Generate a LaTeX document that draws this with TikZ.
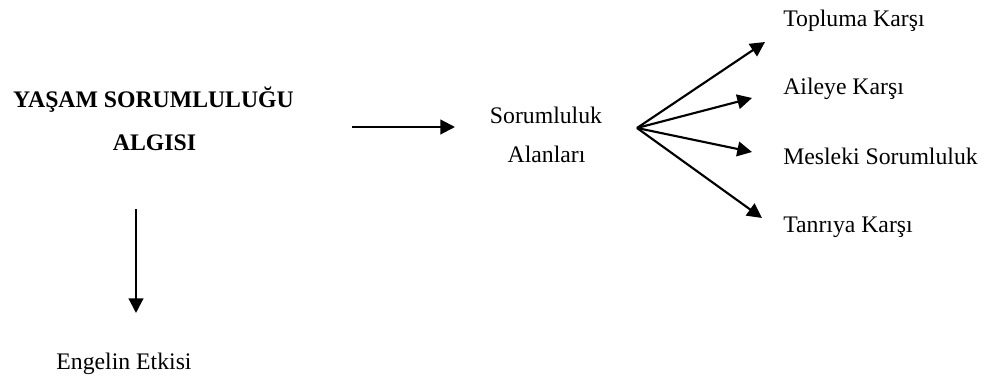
\documentclass[tikz,border=0pt]{standalone}
\usepackage{fontspec}
\setmainfont{Liberation Serif}
\usetikzlibrary{arrows.meta}
\begin{document}
\begin{tikzpicture}[x=0.75pt,y=-0.75pt,
  lbl/.style={inner sep=0pt,anchor=base,font=\fontsize{17.8}{20}\selectfont},
  blbl/.style={lbl,font=\fontsize{17.8}{20}\selectfont\bfseries},
  arr/.style={line width=1.6pt,-{Triangle[length=11pt,width=11pt]}}]
\useasboundingbox (0,0) rectangle (986,378);
\node[blbl] (t1) at (153.5,108) {YAŞAM SORUMLULUĞU};
\node[blbl] (t2) at (154.5,151) {ALGISI};
\node[lbl] (s1) at (546,123) {Sorumluluk};
\node[lbl] (s2) at (546.5,162) {Alanları};
\node[lbl,anchor=base west] (k1) at (783,27) {Topluma Karşı};
\node[lbl,anchor=base west] (k2) at (783,95) {Aileye Karşı};
\node[lbl,anchor=base west] (k3) at (783,164) {Mesleki Sorumluluk};
\node[lbl,anchor=base west] (k4) at (783,232) {Tanrıya Karşı};
\node[lbl] (e) at (124,369) {Engelin Etkisi};
\coordinate (h0) at (352,127);
\coordinate (h1) at (455,127);
\coordinate (v0) at (136,209);
\coordinate (v1) at (136,313);
\coordinate (o) at (637,128);
\coordinate (a1) at (765,42);
\coordinate (a2) at (752,98);
\coordinate (a3) at (752,152);
\coordinate (a4) at (762,218);
\draw[arr] (h0) -- (h1);
\draw[arr] (v0) -- (v1);
\draw[arr] (o) -- (a1);
\draw[arr] (o) -- (a2);
\draw[arr] (o) -- (a3);
\draw[arr] (o) -- (a4);
\end{tikzpicture}
\end{document}
